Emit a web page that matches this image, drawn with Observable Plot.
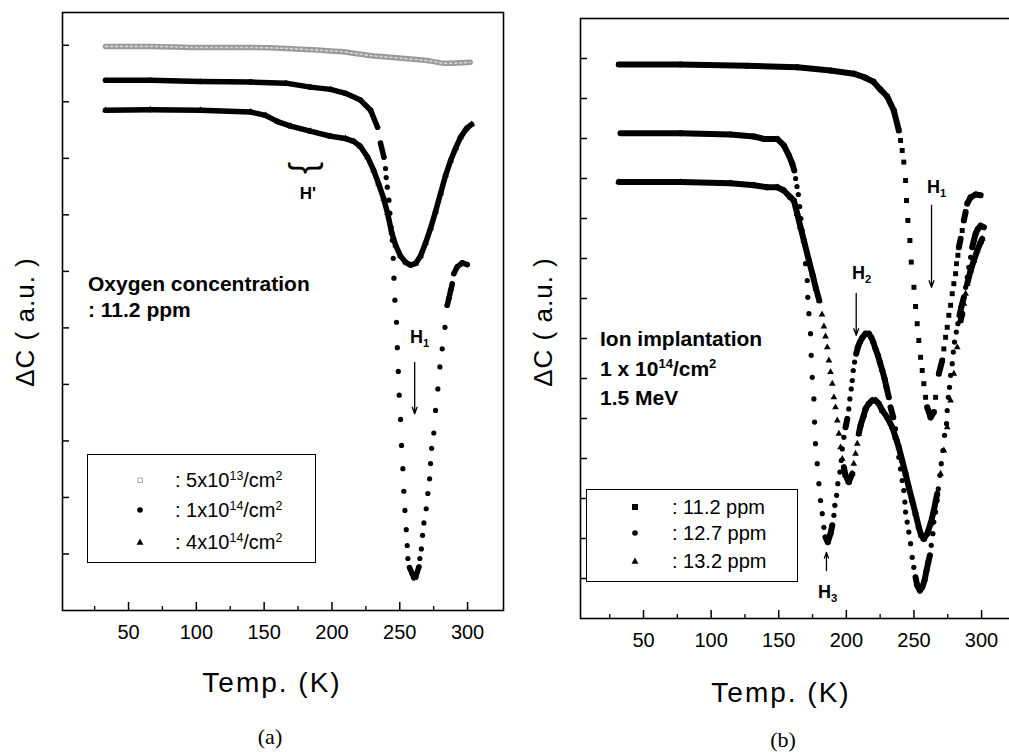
<!DOCTYPE html>
<html><head><meta charset="utf-8">
<script src="https://cdn.jsdelivr.net/npm/d3@7"></script>
<script src="https://cdn.jsdelivr.net/npm/@observablehq/plot@0.6"></script>
<style>
html,body{margin:0;padding:0;background:#fff;overflow:hidden;}
#root{position:relative;width:1009px;height:752px;overflow:hidden;font-family:"Liberation Sans",Arial,sans-serif;color:#000;}
#root svg{position:absolute;top:0;}
.abs{position:absolute;white-space:nowrap;line-height:1;}
.abs sub{font-size:0.62em;vertical-align:baseline;position:relative;top:0.4em;}
.abs sup{font-size:0.62em;vertical-align:baseline;position:relative;top:-0.6em;}
.legend{position:absolute;border:1.5px solid #000;background:#fff;box-sizing:border-box;}
.legend .row{position:absolute;white-space:nowrap;line-height:1;font-size:20px;transform:translateY(-50%);}
.legend svg{position:absolute;}
</style></head>
<body><div id="root"></div>
<script>
// ---------------- data ----------------
// Panel (a): oxygen concentration 11.2 ppm, three implant doses
const a_doses = ["5x10^13/cm^2", "1x10^14/cm^2", "4x10^14/cm^2"];
const a5e13_T = [33, 66, 103, 140, 170, 192, 206, 228, 251, 273, 284, 302];
const a5e13_dC = [9.98, 9.98, 9.96, 9.96, 9.94, 9.91, 9.89, 9.82, 9.77, 9.72, 9.68, 9.70];
const a1e14_T = [33, 66, 103, 140, 166, 184, 199, 210, 221, 228.5, 233.6, 235.8, 238.3, 239.5, 240.0, 240.8, 242.0, 242.7, 243.7, 244.5, 245.2, 245.7, 246.4, 247.6, 248.2, 248.9, 249.6, 250.6, 251.3, 252.3, 253.0, 253.8, 254.8, 255.5, 256.0, 257.2, 259.2, 260.4, 261.7, 264.1, 264.8, 265.9, 266.8, 267.8, 269.5, 270.7, 272.0, 272.7, 273.5, 275.1, 276.4, 278.1, 279.6, 281.3, 283.3, 285.0, 286.2, 287.5, 288.7, 289.9, 292.4, 296.1, 299.8];
const a1e14_dC = [9.38, 9.38, 9.36, 9.35, 9.33, 9.26, 9.22, 9.15, 9.03, 8.85, 8.55, 8.27, 8.02, 7.82, 7.66, 7.49, 7.26, 7.03, 6.78, 6.55, 6.23, 5.88, 5.49, 5.10, 4.65, 4.23, 3.81, 3.38, 2.92, 2.51, 2.11, 1.77, 1.43, 1.15, 0.92, 0.76, 0.65, 0.58, 0.59, 0.77, 0.92, 1.09, 1.33, 1.55, 1.80, 2.07, 2.33, 2.60, 2.87, 3.14, 3.54, 3.92, 4.31, 4.63, 5.01, 5.40, 5.52, 5.66, 5.78, 5.96, 6.08, 6.15, 6.12];
const a4e14_T = [33, 66, 103, 140, 151, 160, 169.5, 184, 199, 210, 216, 221, 226.3, 230.7, 234.4, 238.1, 241, 244, 247, 250.6, 254.3, 258, 261.7, 265.3, 269, 272.7, 276.4, 280.1, 283.8, 287.5, 291.2, 294.8, 299.3, 303];
const a4e14_dC = [8.85, 8.86, 8.85, 8.82, 8.76, 8.65, 8.57, 8.48, 8.39, 8.35, 8.30, 8.21, 8.02, 7.79, 7.55, 7.29, 7.03, 6.69, 6.46, 6.27, 6.16, 6.11, 6.14, 6.27, 6.50, 6.76, 7.06, 7.38, 7.70, 7.96, 8.18, 8.37, 8.53, 8.60];

// Panel (b): implantation 1x10^14/cm^2, 1.5 MeV, three oxygen concentrations
const b_ppm = [": 11.2 ppm", ": 12.7 ppm", ": 13.2 ppm"];
const b112_T = [31.7, 77.4, 126.7, 163.7, 188.3, 205.5, 214, 220, 225.3, 230.2, 235.1, 238.8, 240.1, 241.3, 242.5, 243.8, 244.5, 245.5, 247.0, 248.0, 250.0, 251.2, 252.4, 253.6, 254.9, 256.1, 257.3, 258.6, 259.8, 262.3, 264.7, 266.0, 268.4, 270.9, 272.1, 273.4, 274.6, 275.8, 277.1, 278.3, 279.5, 280.8, 281.5, 282.5, 283.2, 284.5, 285.7, 286.9, 288.2, 289.4, 291.9, 295.6, 299.3];
const b112_dC = [13.85, 13.85, 13.82, 13.78, 13.70, 13.62, 13.52, 13.42, 13.22, 13.05, 12.70, 12.20, 11.95, 11.70, 11.41, 10.95, 10.45, 9.95, 9.45, 8.91, 8.28, 7.80, 7.37, 6.95, 6.53, 6.20, 5.87, 5.53, 5.28, 5.03, 5.16, 5.53, 6.12, 6.45, 6.74, 7.03, 7.28, 7.58, 7.83, 8.12, 8.37, 8.62, 8.87, 9.08, 9.28, 9.49, 9.70, 9.95, 10.16, 10.37, 10.53, 10.60, 10.58];
const b127_T = [33, 77.4, 114.3, 131.6, 139, 148.9, 153.8, 157.5, 160, 161.5, 162.5, 163.5, 164.5, 165.5, 166.4, 167.4, 168.6, 169.8, 171.1, 171.5, 172.3, 173.5, 174.0, 174.8, 176.0, 176.5, 177.2, 178.5, 179.7, 180.9, 182.2, 183.4, 184.6, 186.3, 188.3, 189.6, 190.8, 191.5, 192.8, 193.7, 195.2, 196.2, 197.0, 198.2, 199.4, 200.7, 201.8, 202.6, 203.6, 204.4, 205.1, 206.1, 207.3, 208.5, 210.0, 211.8, 214.2, 216.6, 218.4, 219.9, 221.6, 223.3, 224.8, 226.6, 228.3, 229.7, 231.4, 232.7, 234.7, 236.4, 237.6, 238.8, 240.1, 241.3, 242.5, 243.3, 243.8, 245.0, 246.2, 247.5, 248.7, 249.9, 251.2, 252.4, 254.4, 256.1, 257.8, 259.3, 260.6, 261.8, 262.8, 264.0, 264.7, 266.0, 267.2, 268.0, 269.2, 270.2, 271.4, 272.6, 274.1, 274.6, 275.4, 276.3, 277.1, 278.3, 279.1, 280.0, 281.3, 282.5, 283.7, 285.0, 286.9, 288.2, 289.4, 290.6, 291.9, 293.1, 294.3, 295.6, 297.3, 299.3, 301.7];
const b127_dC = [12.13, 12.13, 12.10, 12.05, 11.99, 11.99, 11.83, 11.58, 11.37, 11.20, 11.00, 10.80, 10.60, 10.30, 10.00, 9.70, 9.45, 8.87, 8.45, 8.03, 7.62, 7.12, 6.58, 6.03, 5.49, 4.91, 4.37, 3.87, 3.37, 2.95, 2.62, 2.28, 2.03, 1.91, 2.12, 2.33, 2.58, 2.83, 3.08, 3.37, 3.66, 3.95, 4.24, 4.53, 4.78, 4.99, 5.24, 5.49, 5.74, 5.95, 6.20, 6.41, 6.62, 6.78, 6.91, 7.02, 7.12, 7.12, 7.03, 6.91, 6.74, 6.58, 6.41, 6.20, 5.99, 5.78, 5.53, 5.28, 5.03, 4.74, 4.45, 4.03, 3.74, 3.45, 3.20, 2.91, 2.66, 2.41, 2.16, 1.87, 1.53, 1.28, 1.03, 0.83, 0.70, 0.78, 0.95, 1.20, 1.41, 1.58, 1.83, 2.12, 2.41, 2.66, 2.95, 3.24, 3.58, 3.87, 4.20, 4.58, 4.87, 5.20, 5.53, 5.78, 6.08, 6.37, 6.66, 6.91, 7.16, 7.37, 7.58, 7.78, 8.03, 8.28, 8.53, 8.78, 9.03, 9.28, 9.45, 9.62, 9.74, 9.82, 9.78];
const b132_T = [31.7, 77.4, 114.3, 131.6, 141.5, 148.9, 153.8, 158.7, 161.2, 163.7, 166.1, 168.6, 172.3, 175.0, 177.5, 180.0, 182.0, 183.4, 184.6, 185.9, 187.1, 188.3, 189.6, 190.8, 192.0, 193.3, 194.5, 195.7, 197.0, 198.2, 199.4, 201.8, 204.4, 205.5, 206.8, 208.1, 209.2, 210.5, 212.9, 214.2, 216.6, 219.1, 221.6, 224.0, 226.6, 230.2, 234.0, 236.4, 238.8, 241.3, 243.8, 246.2, 248.7, 251.2, 253.6, 255.4, 257.3, 259.8, 262.3, 264.7, 267.2, 269.7, 272.1, 274.6, 277.1, 279.5, 282.0, 284.5, 285.7, 286.9, 288.2, 289.4, 291.9, 294.3, 296.8, 299.3, 300.5];
const b132_dC = [10.91, 10.91, 10.88, 10.83, 10.78, 10.78, 10.70, 10.53, 10.45, 10.12, 9.78, 9.45, 8.95, 8.60, 8.25, 7.95, 7.60, 7.30, 7.05, 6.78, 6.45, 6.16, 5.87, 5.53, 5.28, 4.95, 4.62, 4.28, 3.99, 3.78, 3.58, 3.41, 3.62, 3.87, 4.12, 4.37, 4.62, 4.83, 5.08, 5.24, 5.37, 5.45, 5.45, 5.37, 5.20, 5.03, 4.78, 4.53, 4.28, 3.95, 3.62, 3.28, 2.95, 2.62, 2.28, 2.08, 1.99, 2.12, 2.37, 2.70, 3.12, 3.62, 4.20, 4.78, 5.45, 6.12, 6.78, 7.45, 7.62, 7.87, 8.12, 8.37, 8.70, 8.95, 9.20, 9.41, 9.49];

// axes
const xMajor = [50, 100, 150, 200, 250, 300];
const xMinor = [25, 75, 125, 175, 225, 275];
const yTicksA = [1, 2, 3, 4, 5, 6, 7, 8, 9, 10];
const yTicksB = [1, 2, 3, 4, 5, 6, 7, 8, 9, 10, 11, 12, 13, 14];

// peak markers (temperature, arrow start/end in ΔC units)
const arrowsA = [{T: 261, from: 4.39, to: 3.48}];
const arrowsB = [{T: 263, from: 10.33, to: 8.28}, {T: 207.3, from: 8.13, to: 7.08}, {T: 185.3, from: 1.2, to: 1.65}];

// ---------------- helpers ----------------
const pts = (T, V) => T.slice(0, Math.min(T.length, V.length)).map((t, i) => ({T: t, v: V[i]}));
// Dense samples merge into a solid band; steep parts show separate markers.
function solidPairs(P, kx, ky, thr = 5) {
  const out = [];
  for (let i = 1; i < P.length; i++) {
    const dx = Math.abs(P[i].T - P[i - 1].T) * kx, dy = Math.abs(P[i].v - P[i - 1].v) * ky;
    if (dy <= thr * dx) { out.push({...P[i - 1], g: i}); out.push({...P[i], g: i}); }
  }
  return out;
}
const FONT = '"Liberation Sans", Arial, sans-serif';
const root = document.getElementById("root");

function panel({W, H, mL, mR, mT, mB, xDom, yDom, yTicks, series, gray, arrows, left}) {
  const kx = (W - mL - mR) / (xDom[1] - xDom[0]);
  const ky = (H - mT - mB) / (yDom[1] - yDom[0]);
  const marks = [];
  if (gray) {
    marks.push(Plot.line(gray, {x: "T", y: "v", stroke: "#9a9a9a", strokeWidth: 5.5, strokeLinecap: "round", curve: "monotone-x"}));
    marks.push(Plot.line(gray, {x: "T", y: "v", stroke: "#d6d6d6", strokeWidth: 1.6, strokeDasharray: "2,3", curve: "monotone-x"}));
  }
  for (const s of series) {
    marks.push(Plot.line(solidPairs(s.P, kx, ky), {x: "T", y: "v", z: "g", stroke: "#000", strokeWidth: s.w, strokeLinecap: "round"}));
    marks.push(Plot.dot(s.P, {x: "T", y: "v", symbol: s.symbol, r: s.r, fill: "#000", stroke: "none"}));
  }
  marks.push(Plot.arrow(arrows, {x1: "T", x2: "T", y1: "from", y2: "to", stroke: "#000", strokeWidth: 1.3, headLength: 8, headAngle: 40}));
  marks.push(Plot.ruleX(xMajor, {y1: yDom[0], y2: yDom[0] + 8 / ky, stroke: "#000", strokeWidth: 1.5}));
  marks.push(Plot.ruleX(xMinor, {y1: yDom[0], y2: yDom[0] + 4 / ky, stroke: "#000", strokeWidth: 1.3}));
  marks.push(Plot.ruleY(yTicks, {x1: xDom[0], x2: xDom[0] + 7 / kx, stroke: "#000", strokeWidth: 1.5}));
  marks.push(Plot.axisX({ticks: xMajor, tickSize: 0, tickPadding: 14, tickFormat: d => String(d), fontSize: 20, label: null}));
  marks.push(Plot.frame({stroke: "#000", strokeWidth: 1.6}));
  const svg = Plot.plot({
    width: W, height: H, marginLeft: mL, marginRight: mR, marginTop: mT, marginBottom: mB,
    x: {domain: xDom, axis: null, label: null}, y: {domain: yDom, axis: null, label: null},
    style: {fontFamily: FONT, fontSize: "20px", background: "transparent", overflow: "visible", color: "#000"},
    marks
  });
  svg.style.left = left + "px";
  root.appendChild(svg);
}

panel({
  W: 505, H: 660, mL: 62, mR: 2, mT: 12, mB: 50, xDom: [1.3, 326.5], yDom: [0, 10.58], yTicks: yTicksA, left: 0,
  gray: pts(a5e13_T, a5e13_dC),
  series: [
    {P: pts(a1e14_T, a1e14_dC), symbol: "circle", r: 2.6, w: 5.5},
    {P: pts(a4e14_T, a4e14_dC), symbol: "triangle", r: 2.5, w: 5.5}
  ],
  arrows: arrowsA
});
panel({
  W: 520, H: 660, mL: 80, mR: 5, mT: 18, mB: 42, xDom: [3.4, 325.1], yDom: [0, 15], yTicks: yTicksB, left: 500,
  series: [
    {P: pts(b112_T, b112_dC), symbol: "square", r: 2.8, w: 6},
    {P: pts(b127_T, b127_dC), symbol: "circle", r: 2.6, w: 6},
    {P: pts(b132_T, b132_dC), symbol: "triangle", r: 2.5, w: 6}
  ],
  arrows: arrowsB
});

// ---------------- text ----------------
function label(html, x, y, o = {}) {
  const d = document.createElement("div");
  d.className = "abs";
  d.innerHTML = html;
  const tx = o.anchor === "middle" ? "-50%" : "0";
  Object.assign(d.style, {
    left: x + "px", top: y + "px", fontSize: (o.size || 20) + "px", fontWeight: o.weight || "normal",
    fontFamily: o.family || FONT, letterSpacing: o.ls || "normal",
    transform: `translate(${tx},-50%)` + (o.rotate ? ` rotate(${o.rotate}deg)` : "")
  });
  root.appendChild(d);
}
// axis titles
label("ΔC ( a.u. )", 25, 322, {anchor: "middle", size: 26, rotate: -90, ls: "1px"});
label("ΔC ( a.u. )", 543, 322, {anchor: "middle", size: 26, rotate: -90, ls: "1px"});
label("Temp. (K)", 272, 683, {anchor: "middle", size: 28, ls: "2px"});
label("Temp. (K)", 781, 693, {anchor: "middle", size: 28, ls: "2px"});
label("(a)", 270, 737, {anchor: "middle", size: 22, family: '"Liberation Serif", "DejaVu Serif", serif'});
label("(b)", 783, 740, {anchor: "middle", size: 22, family: '"Liberation Serif", "DejaVu Serif", serif'});
// panel (a) annotations
label("Oxygen concentration", 88, 283, {size: 21, weight: "bold"});
label(": 11.2 ppm", 88, 309, {size: 21, weight: "bold"});
label("}", 308, 168, {anchor: "middle", size: 36, rotate: 90});
label("H'", 308, 193, {anchor: "middle", size: 17, weight: "bold"});
label("H<sub>1</sub>", 410, 337, {size: 18, weight: "bold"});
// panel (b) annotations
label("Ion implantation", 600, 338, {size: 21, weight: "bold"});
label("1 x 10<sup>14</sup>/cm<sup>2</sup>", 600, 368, {size: 21, weight: "bold"});
label("1.5 MeV", 600, 397, {size: 21, weight: "bold"});
label("H<sub>1</sub>", 927, 187, {size: 18, weight: "bold"});
label("H<sub>2</sub>", 852, 273, {size: 18, weight: "bold"});
label("H<sub>3</sub>", 818, 592, {size: 18, weight: "bold"});

// ---------------- legends ----------------
function symbolSvg(kind, color) {
  const s = 12, c = 6;
  let shape = "";
  if (kind === "circle") shape = `<circle cx="${c}" cy="${c}" r="2.8" fill="${color}"/>`;
  if (kind === "square") shape = `<rect x="3" y="3" width="6" height="6" fill="${color}"/>`;
  if (kind === "triangle") shape = `<path d="M6,2.5 L9.5,8.8 L2.5,8.8 Z" fill="${color}"/>`;
  if (kind === "open") shape = `<rect x="4" y="4" width="4.5" height="4.5" fill="none" stroke="${color}" stroke-width="1"/>`;
  return `<svg width="${s}" height="${s}" viewBox="0 0 ${s} ${s}">${shape}</svg>`;
}
function legend(box, symX, txtX, rows) {
  const d = document.createElement("div");
  d.className = "legend";
  Object.assign(d.style, {left: box[0] + "px", top: box[1] + "px", width: box[2] + "px", height: box[3] + "px"});
  for (const r of rows) {
    const sv = document.createElement("div");
    sv.innerHTML = symbolSvg(r.kind, r.color);
    Object.assign(sv.style, {position: "absolute", left: (symX - 6) + "px", top: (r.y - 6) + "px", width: "12px", height: "12px"});
    d.appendChild(sv);
    const t = document.createElement("div");
    t.className = "row abs";
    t.innerHTML = r.html;
    Object.assign(t.style, {left: txtX + "px", top: r.y + "px", transform: "translateY(-50%)"});
    d.appendChild(t);
  }
  root.appendChild(d);
}
const sup = s => s.replace(/\^(\d+)/g, "<sup>$1</sup>");
legend([87, 454, 229, 109], 52, 87, [
  {kind: "open", color: "#aaa", y: 25, html: ": " + sup(a_doses[0])},
  {kind: "circle", color: "#000", y: 55, html: ": " + sup(a_doses[1])},
  {kind: "triangle", color: "#000", y: 87, html: ": " + sup(a_doses[2])}
]);
legend([586, 489, 212, 93], 48, 85, [
  {kind: "square", color: "#000", y: 17, html: b_ppm[0]},
  {kind: "circle", color: "#000", y: 43, html: b_ppm[1]},
  {kind: "triangle", color: "#000", y: 71, html: b_ppm[2]}
]);
</script></body></html>
